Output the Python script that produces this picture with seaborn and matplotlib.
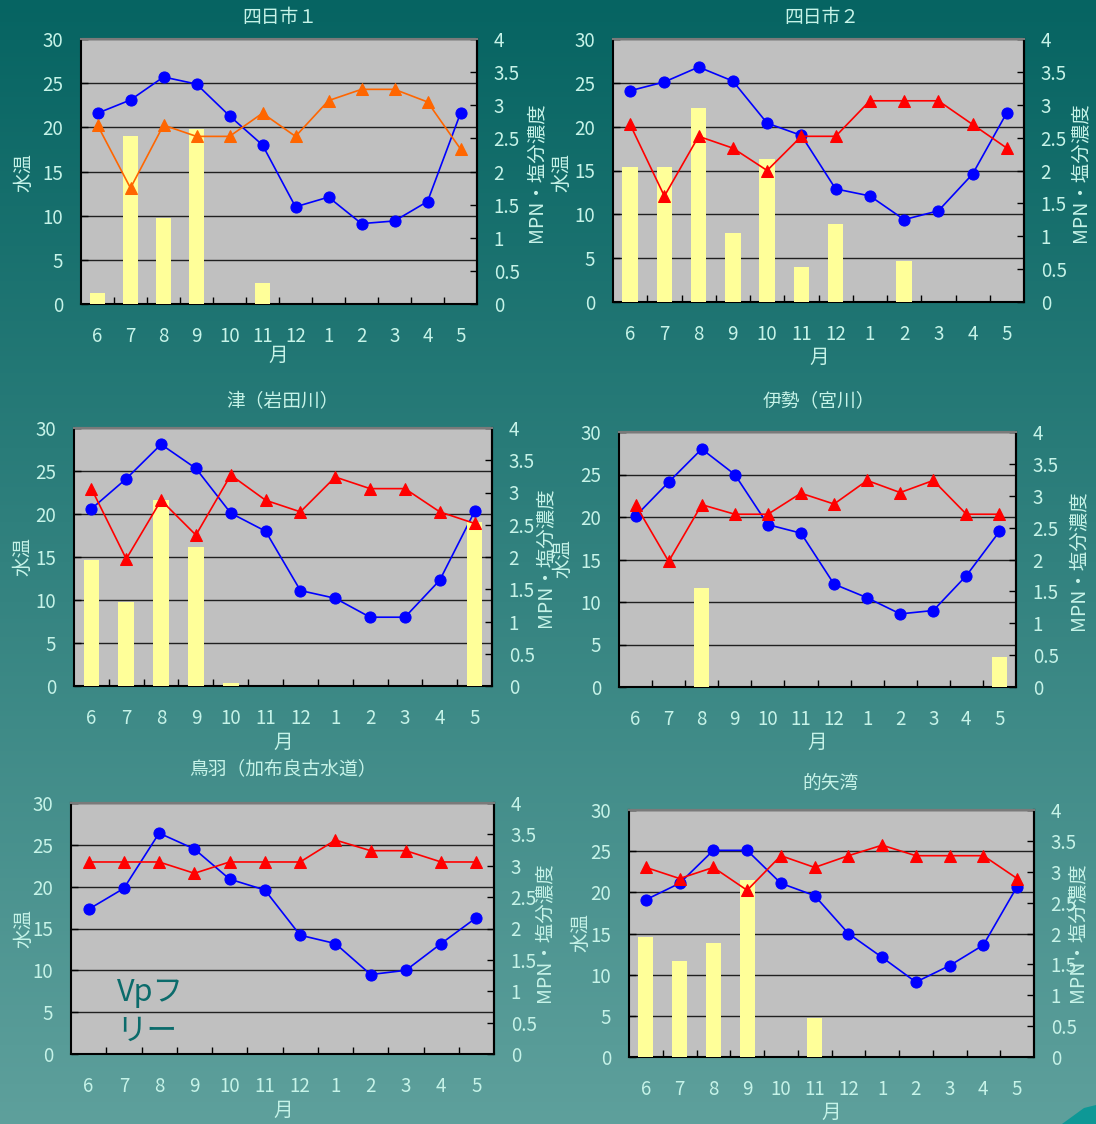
import numpy as np
import pandas as pd
import matplotlib
matplotlib.use("Agg")
import matplotlib.pyplot as plt
import seaborn as sns
from matplotlib.ticker import MultipleLocator, FixedLocator, FixedFormatter, FuncFormatter
from matplotlib.patches import Polygon

# ---------------- data ----------------
months = ["6", "7", "8", "9", "10", "11", "12", "1", "2", "3", "4", "5"]

titles = ["四日市１", "四日市２", "津（岩田川）", "伊勢（宮川）", "鳥羽（加布良古水道）", "的矢湾"]

temp_yokkaichi1 = [21.6, 23.1, 25.7, 24.9, 21.3, 18.0, 11.0, 12.1, 9.1, 9.4, 11.6, 21.6]
salt_yokkaichi1 = [2.70, 1.75, 2.70, 2.53, 2.53, 2.88, 2.53, 3.07, 3.24, 3.24, 3.05, 2.34]
mpn_yokkaichi1 = [0.17, 2.54, 1.30, 2.64, 0, 0.32, 0, 0, 0, 0, 0, 0]

temp_yokkaichi2 = [24.1, 25.1, 26.8, 25.2, 20.4, 19.0, 12.9, 12.1, 9.4, 10.4, 14.6, 21.6]
salt_yokkaichi2 = [2.70, 1.61, 2.52, 2.34, 2.00, 2.52, 2.52, 3.06, 3.06, 3.06, 2.70, 2.34]
mpn_yokkaichi2 = [2.06, 2.06, 2.95, 1.05, 2.18, 0.53, 1.19, 0, 0.62, 0, 0, 0]

temp_tsu = [20.6, 24.1, 28.1, 25.3, 20.1, 18.0, 11.1, 10.2, 8.0, 8.0, 12.3, 20.3]
salt_tsu = [3.06, 1.97, 2.88, 2.34, 3.27, 2.88, 2.70, 3.24, 3.06, 3.06, 2.70, 2.52]
mpn_tsu = [1.95, 1.31, 2.88, 2.15, 0.04, 0, 0, 0, 0, 0, 0, 2.55]

temp_ise = [20.1, 24.1, 28.0, 25.0, 19.1, 18.1, 12.1, 10.5, 8.6, 9.0, 13.1, 18.3]
salt_ise = [2.86, 1.97, 2.86, 2.71, 2.71, 3.04, 2.87, 3.24, 3.05, 3.24, 2.71, 2.71]
mpn_ise = [0, 0, 1.55, 0, 0, 0, 0, 0, 0, 0, 0, 0.47]

temp_toba = [17.3, 19.8, 26.4, 24.5, 20.9, 19.6, 14.2, 13.2, 9.5, 10.0, 13.2, 16.3]
salt_toba = [3.06, 3.06, 3.06, 2.88, 3.06, 3.06, 3.06, 3.41, 3.24, 3.24, 3.06, 3.06]
mpn_toba = [0, 0, 0, 0, 0, 0, 0, 0, 0, 0, 0, 0]

temp_matoya = [19.1, 21.1, 25.1, 25.1, 21.1, 19.6, 15.0, 12.1, 9.1, 11.1, 13.6, 20.7]
salt_matoya = [3.07, 2.89, 3.07, 2.70, 3.26, 3.07, 3.26, 3.43, 3.26, 3.26, 3.26, 2.89]
mpn_matoya = [1.94, 1.55, 1.85, 2.87, 0, 0.63, 0, 0, 0, 0, 0, 0]

series = [
    (temp_yokkaichi1, salt_yokkaichi1, mpn_yokkaichi1),
    (temp_yokkaichi2, salt_yokkaichi2, mpn_yokkaichi2),
    (temp_tsu, salt_tsu, mpn_tsu),
    (temp_ise, salt_ise, mpn_ise),
    (temp_toba, salt_toba, mpn_toba),
    (temp_matoya, salt_matoya, mpn_matoya),
]

# ---------------- layout (pixels) ----------------
W, H = 1096, 1124
layout = [
    dict(box=(81, 39, 477, 304), title=(280, 17), yl=(24, 172), yr=(537, 172), xl=(278, 355)),
    dict(box=(613, 39, 1024, 302), title=(822, 17), yl=(562, 172), yr=(1081, 172), xl=(819, 357)),
    dict(box=(74, 428, 492, 686), title=(283, 402), yl=(23, 557), yr=(546, 557), xl=(283, 742)),
    dict(box=(619, 432, 1016, 687), title=(819, 401), yl=(563, 558), yr=(1079, 560), xl=(817, 742)),
    dict(box=(71, 803, 494, 1054), title=(283, 769), yl=(24, 928), yr=(545, 932), xl=(283, 1110)),
    dict(box=(629, 810, 1034, 1057), title=(831, 783), yl=(581, 933), yr=(1078, 932), xl=(831, 1112)),
]
salt_colors = ["#ff6600", "#ff0000", "#ff0000", "#ff0000", "#ff0000", "#ff0000"]

TXT = "#c6f3e8"
plt.rcParams["font.family"] = ["Noto Sans CJK JP", "DejaVu Sans"]

fig = plt.figure(figsize=(W / 100, H / 100), dpi=100)

# background gradient
bg = fig.add_axes([0, 0, 1, 1], zorder=-10)
top = np.array([6, 100, 98]) / 255
bot = np.array([94, 160, 156]) / 255
t = np.linspace(0, 1, 256)[:, None]
grad = top * (1 - t) + bot * t
bg.imshow(grad[:, None, :], aspect="auto", extent=[0, 1, 0, 1])
bg.axis("off")


def fx(x):
    return x / W


def fy(y):
    return 1 - y / H


for i, (lay, (temp, salt, mpn)) in enumerate(zip(layout, series)):
    l, tp, r, b = lay["box"]
    ax = fig.add_axes([fx(l), fy(b), (r - l) / W, (b - tp) / H])
    ax.set_facecolor("#c0c0c0")
    ax2 = ax.twinx()
    df = pd.DataFrame({"month": months, "temp": temp, "salt": salt, "mpn": mpn})

    sns.barplot(data=df, x="month", y="mpn", order=months, ax=ax2, color="#ffff99",
                saturation=1, width=0.45, linewidth=0, errorbar=None, zorder=2)
    sns.lineplot(data=df, x="month", y="salt", ax=ax2, color=salt_colors[i], marker="^",
                 markersize=9, markeredgecolor=salt_colors[i], lw=1.2, sort=False,
                 errorbar=None, legend=False, zorder=3)
    sns.lineplot(data=df, x="month", y="temp", ax=ax, color="#0000ff", marker="o",
                 markersize=8, markeredgecolor="#0000ff", lw=1.2, sort=False,
                 errorbar=None, legend=False, zorder=3)

    ax.set_ylim(0, 30)
    ax2.set_ylim(0, 4)
    ax.set_xlim(-0.5, 11.5)
    ax.yaxis.set_major_locator(MultipleLocator(5))
    ax2.yaxis.set_major_locator(MultipleLocator(0.5))
    ax2.yaxis.set_major_formatter(FuncFormatter(lambda v, p: f"{v:g}"))
    ax.yaxis.set_major_formatter(FuncFormatter(lambda v, p: f"{v:g}"))
    ax.xaxis.set_major_locator(FixedLocator(list(range(len(months)))))
    ax.xaxis.set_major_formatter(FixedFormatter(months))
    ax.xaxis.set_minor_locator(FixedLocator([k + 0.5 for k in range(len(months) - 1)]))

    ax.set_axisbelow(True)
    ax.yaxis.grid(True, color="#202020", lw=1.0)
    ax.xaxis.grid(False)
    ax2.grid(False)

    ax.tick_params(axis="y", direction="in", length=5, width=1, color="black",
                   labelcolor=TXT, labelsize=13.5, pad=13)
    ax2.tick_params(axis="y", direction="in", length=5, width=1, color="black",
                    labelcolor=TXT, labelsize=13.5, pad=12)
    ax.tick_params(axis="x", which="major", length=0, labelcolor=TXT, labelsize=13.5, pad=16)
    ax.tick_params(axis="x", which="minor", direction="in", length=5, width=1, color="black")

    for a in (ax, ax2):
        a.set_xlabel("")
        a.set_ylabel("")
        for s in a.spines.values():
            s.set_linewidth(1.5)
            s.set_color("black")
        a.spines["top"].set_color("#7a7a7a")
    ax2.spines["left"].set_visible(False)
    ax2.spines["bottom"].set_visible(False)

    fig.text(fx(lay["title"][0]), fy(lay["title"][1]), titles[i], color=TXT,
             fontsize=13.5, ha="center", va="center")
    fig.text(fx(lay["yl"][0]), fy(lay["yl"][1]), "水温", color=TXT, fontsize=14,
             rotation=90, ha="center", va="center")
    fig.text(fx(lay["yr"][0]), fy(lay["yr"][1]), "MPN・塩分濃度", color=TXT, fontsize=14,
             rotation=90, ha="center", va="center")
    fig.text(fx(lay["xl"][0]), fy(lay["xl"][1]), "月", color=TXT, fontsize=14,
             ha="center", va="center")

    if i == 4:
        ax.text(0.108, 0.305, "Vpフ\nリー", transform=ax.transAxes, color="#0b6b6b",
                fontsize=22, ha="left", va="top", linespacing=1.3, zorder=5)

# decoration in bottom-right corner
fig.patches.append(Polygon([(fx(1062), fy(1124)), (fx(1084), fy(1108)), (fx(1096), fy(1105)),
                            (fx(1096), fy(1124))], closed=True, transform=fig.transFigure,
                           facecolor="#0e9896", edgecolor="none"))

fig.savefig("out.png", dpi=100)
